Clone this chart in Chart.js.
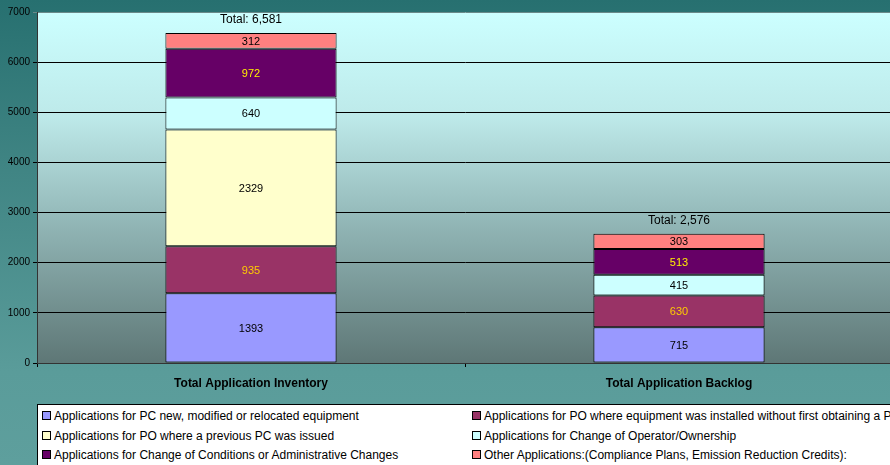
<!DOCTYPE html>
<html>
<head>
<meta charset="utf-8">
<script src="https://cdn.jsdelivr.net/npm/chart.js@4/dist/chart.umd.min.js"></script>
<style>
  html, body { margin: 0; padding: 0; overflow: hidden; }
  body {
    width: 890px; height: 465px; position: relative;
    background: linear-gradient(to bottom, #277070 0%, #3f8483 35%, #5a9c9a 80%, #5e9f9d 100%);
    font-family: Arial, "Liberation Sans", sans-serif;
  }
  #wrap { position: absolute; left: 0; top: 0; width: 900px; height: 465px; }
  #legend {
    position: absolute; left: 37px; top: 404px; width: 880px; height: 80px;
    background: #fff; border: 1px solid #000; box-sizing: border-box;
    font-size: 12px; color: #000;
  }
  .item { position: absolute; white-space: nowrap; line-height: 14px; }
  .sw { display: inline-block; width: 7px; height: 7px; border: 1px solid #000; margin-right: 3px; vertical-align: 0px; }
</style>
</head>
<body>
<div id="wrap"><canvas id="chart" width="900" height="465"></canvas></div>
<div id="legend"></div>
<script>
// categorias e séries
const categorias = ['Total Application Inventory', 'Total Application Backlog'];
const totais = ['Total: 6,581', 'Total: 2,576'];
const yTicks = [0, 1000, 2000, 3000, 4000, 5000, 6000, 7000];

const seriesNomes = [
  'Applications for PC new, modified or relocated equipment',
  'Applications for PO where equipment was installed without first obtaining a PC',
  'Applications for PO where a previous PC was issued',
  'Applications for Change of Operator/Ownership',
  'Applications for Change of Conditions or Administrative Changes',
  'Other Applications:(Compliance Plans, Emission Reduction Credits):'
];
const pcNovo = [1393, 715];
const poSemPc = [935, 630];
const poPcAnterior = [2329, 0];
const mudancaOperador = [640, 415];
const mudancaCondicoes = [972, 513];
const outras = [312, 303];

const cores = ['#9999ff', '#993366', '#ffffcc', '#ccffff', '#660066', '#ff8080'];
const coresTexto = ['#000', '#ffcc00', '#000', '#000', '#ffee00', '#000'];

const valores = [pcNovo, poSemPc, poPcAnterior, mudancaOperador, mudancaCondicoes, outras];

const datasets = valores.map((v, i) => ({
  label: seriesNomes[i],
  data: v,
  backgroundColor: cores[i],
  borderColor: '#000',
  borderWidth: 1,
  borderSkipped: false,
  barPercentage: 0.8,
  categoryPercentage: 0.5
}));

// fundo da área do gráfico (gradiente)
const fundoPlugin = {
  id: 'fundo',
  beforeDraw(chart) {
    const { ctx, chartArea: a } = chart;
    const g = ctx.createLinearGradient(0, a.top, 0, a.bottom);
    g.addColorStop(0, '#ccffff');
    g.addColorStop(0.3, '#bde9e9');
    g.addColorStop(0.62, '#8fb3b3');
    g.addColorStop(1, '#5e7776');
    ctx.save();
    ctx.fillStyle = g;
    ctx.fillRect(a.left, a.top, a.right - a.left, a.bottom - a.top);
    ctx.restore();
  }
};

// rótulos dos valores e totais
const rotulosPlugin = {
  id: 'rotulos',
  afterDatasetsDraw(chart) {
    const ctx = chart.ctx;
    ctx.save();
    ctx.textAlign = 'center';
    ctx.textBaseline = 'middle';
    ctx.font = '11px Arial, "Liberation Sans"';
    chart.data.datasets.forEach((ds, i) => {
      const meta = chart.getDatasetMeta(i);
      meta.data.forEach((bar, j) => {
        if (!ds.data[j]) return;
        ctx.fillStyle = coresTexto[i];
        ctx.fillText(ds.data[j], bar.x, (bar.y + bar.base) / 2 + 1);
      });
    });
    ctx.font = '12px Arial, "Liberation Sans"';
    ctx.fillStyle = '#000';
    const ultimo = chart.getDatasetMeta(chart.data.datasets.length - 1);
    ultimo.data.forEach((bar, j) => {
      ctx.fillText(totais[j], bar.x, bar.y - 13);
    });
    ctx.restore();
  }
};

new Chart(document.getElementById('chart'), {
  type: 'bar',
  data: { labels: categorias, datasets },
  options: {
    responsive: false,
    animation: false,
    layout: { padding: { top: 12, right: 7, bottom: 72, left: 0 } },
    plugins: { legend: { display: false }, tooltip: { enabled: false } },
    scales: {
      x: {
        stacked: true,
        offset: true,
        afterFit: s => { s.height = 30; },
        grid: { offset: true, drawOnChartArea: false, drawTicks: true, tickLength: 4, color: '#000' },
        border: { color: '#333', width: 1 },
        ticks: { color: '#000', padding: 9, font: { family: 'Arial, "Liberation Sans"', size: 12, weight: 'bold' } }
      },
      y: {
        stacked: true,
        min: 0, max: 7000,
        afterFit: s => { s.width = 37; },
        afterBuildTicks: s => { s.ticks = yTicks.map(v => ({ value: v })); },
        grid: {
          color: c => c.tick && c.tick.value === 7000 ? '#6a8a8a' : '#000',
          lineWidth: 1, tickLength: 4
        },
        border: { color: '#333', width: 1 },
        ticks: {
          color: '#000', padding: 3,
          font: { family: 'Arial, "Liberation Sans"', size: 10 },
          callback: v => String(v)
        }
      }
    }
  },
  plugins: [fundoPlugin, rotulosPlugin]
});

// legenda em duas colunas
const legend = document.getElementById('legend');
seriesNomes.forEach((nome, i) => {
  const d = document.createElement('div');
  d.className = 'item';
  d.style.left = (i % 2 === 0 ? 4 : 434) + 'px';
  d.style.top = (4 + Math.floor(i / 2) * 19.5) + 'px';
  d.innerHTML = `<span class="sw" style="background:${cores[i]}"></span>${nome}`;
  legend.appendChild(d);
});
</script>
</body>
</html>
